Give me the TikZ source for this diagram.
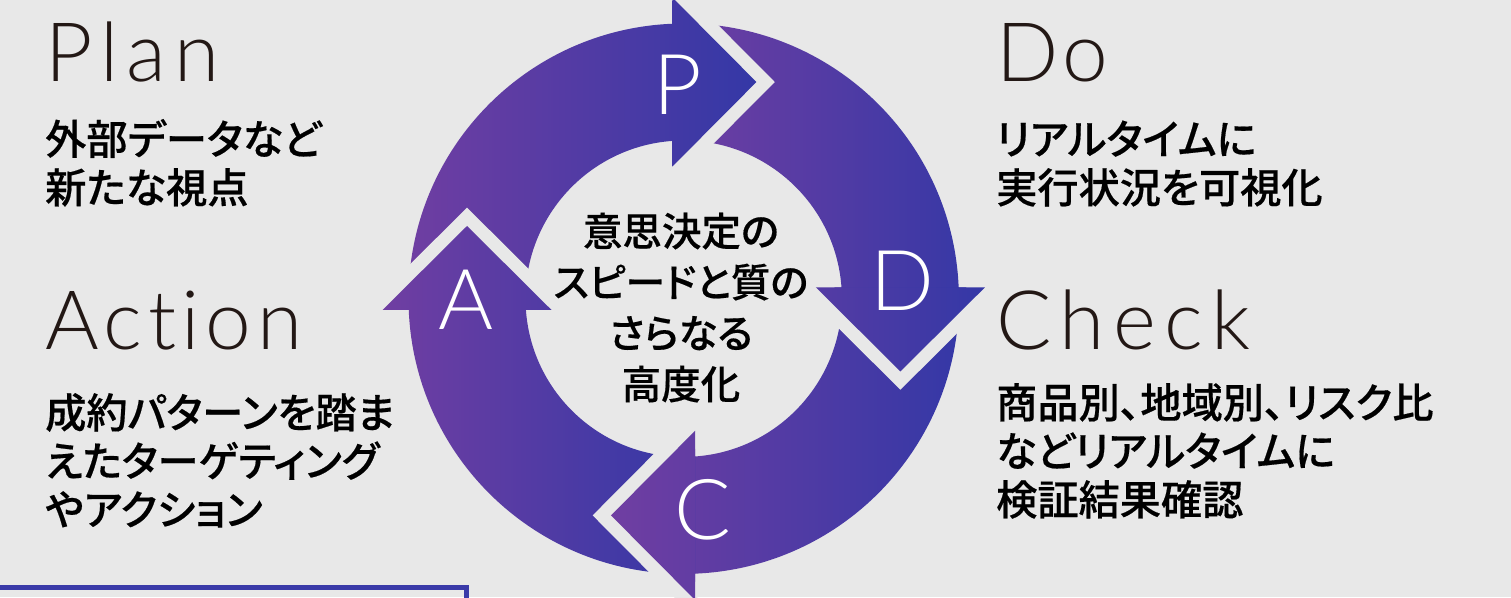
\documentclass[tikz,border=0pt]{standalone}
\usepackage{fontspec}
\IfFontExistsTF{Noto Sans CJK JP Medium}{\newfontfamily\jp{Noto Sans CJK JP Medium}[RawFeature=+palt,FakeBold=0.4]}{\newfontfamily\jp{Noto Sans CJK JP}[RawFeature=+palt]}
\IfFontExistsTF{Lato Light}{\newfontfamily\lat{Lato Light}[LetterSpace=10,Ligatures=NoCommon]}{\newfontfamily\lat{TeX Gyre Heros}[LetterSpace=10]}
\definecolor{bgc}{RGB}{232,232,232}
\definecolor{pl}{RGB}{112,62,162}
\definecolor{bl}{RGB}{52,56,166}
\definecolor{ink}{RGB}{35,24,21}
\definecolor{boxb}{RGB}{58,58,168}
\tikzset{
  arrowshade/.style={left color=pl, right color=bl},
  arrowpath/.style={insert path={
    (182.353+#1:275.2) arc[start angle=182.353+#1, end angle=92.353+#1, radius=275.2]
    -- (92.149+#1:301.41) -- (71.45+#1:228.57) -- (94.886+#1:132.68)
    -- (94.096+#1:158.2) arc[start angle=94.096+#1, end angle=184.096+#1, radius=158.2] -- cycle}},
  headpath/.style={insert path={
    (92.149+#1:301.41) -- (71.45+#1:228.57) -- (94.886+#1:132.68) -- cycle}},
  gapline/.style={draw=bgc, line width=26pt, line join=miter, miter limit=10},
  heading/.style={font=\lat\fontsize{82}{82}\selectfont, text=ink, inner sep=0pt, anchor=base west},
  jtext/.style={font=\jp\fontsize{41.2}{48}\selectfont, text=black, inner sep=0pt, anchor=base west},
  ctext/.style={font=\jp\fontsize{39.5}{51}\selectfont, text=black, inner sep=0pt, anchor=base},
  letter/.style={font=\lat\fontsize{84}{84}\selectfont, text=white, inner sep=0pt}
}
\begin{document}
\begin{tikzpicture}[x=1pt,y=1pt]
\useasboundingbox (0,0) rectangle (1511,597);
\clip (0,0) rectangle (1511,597);
\fill[bgc] (0,0) rectangle (1511,597);
% bottom box
\draw[boxb, line width=5.3pt] (-20,-20) rectangle (466.7,9.5);
% cycle arrows
\begin{scope}[shift={(683.7,298.3)}]
  \foreach \r in {0,270,180,90}{
    \shade[arrowshade, arrowpath=\r];
  }
  \foreach \r in {0,270,180,90}{
    \draw[gapline] (92.149+\r:301.41) -- (71.45+\r:228.57) -- (94.886+\r:132.68);
    \begin{scope}
      \clip[headpath=\r];
      \shade[arrowshade, arrowpath=\r];
    \end{scope}
  }
\end{scope}
% letters in arrows
\node[letter] (lP) at (677.5,597-85) {P};
\node[letter] (lD) at (902,597-281) {D};
\node[letter] (lC) at (703,597-510) {C};
\node[letter] (lA) at (466.5,597-300) {A};
% center text
\node[ctext] (c1) at (681,597-246) {意思決定の};
\node[ctext] (c2) at (681,597-297) {スピードと質の};
\node[ctext] (c3) at (681,597-348) {さらなる};
\node[ctext] (c4) at (681,597-399) {高度化};
% left column
\node[heading] (plan) at (45,597-82) {Plan};
\node[jtext] (plan1) at (45,597-154.5) {外部データなど};
\node[jtext] (plan2) at (45,597-203) {新たな視点};
\node[heading] (action) at (45,597-350) {\addfontfeatures{LetterSpace=7}Action};
\node[jtext] (act1) at (45,597-428) {成約パターンを踏ま};
\node[jtext] (act2) at (45,597-476.5) {えたターゲティング};
\node[jtext] (act3) at (45,597-525) {やアクション};
% right column
\node[heading] (do) at (996,597-82) {\addfontfeatures{LetterSpace=6}Do};
\node[jtext] (do1) at (996,597-154.5) {リアルタイムに};
\node[jtext] (do2) at (996,597-203) {実行状況を可視化};
\node[heading] (check) at (996,597-350) {Check};
\node[jtext] (chk1) at (996,597-418) {商品別、地域別、リスク比};
\node[jtext] (chk2) at (996,597-466.5) {などリアルタイムに};
\node[jtext] (chk3) at (996,597-515) {検証結果確認};
\end{tikzpicture}
\end{document}
